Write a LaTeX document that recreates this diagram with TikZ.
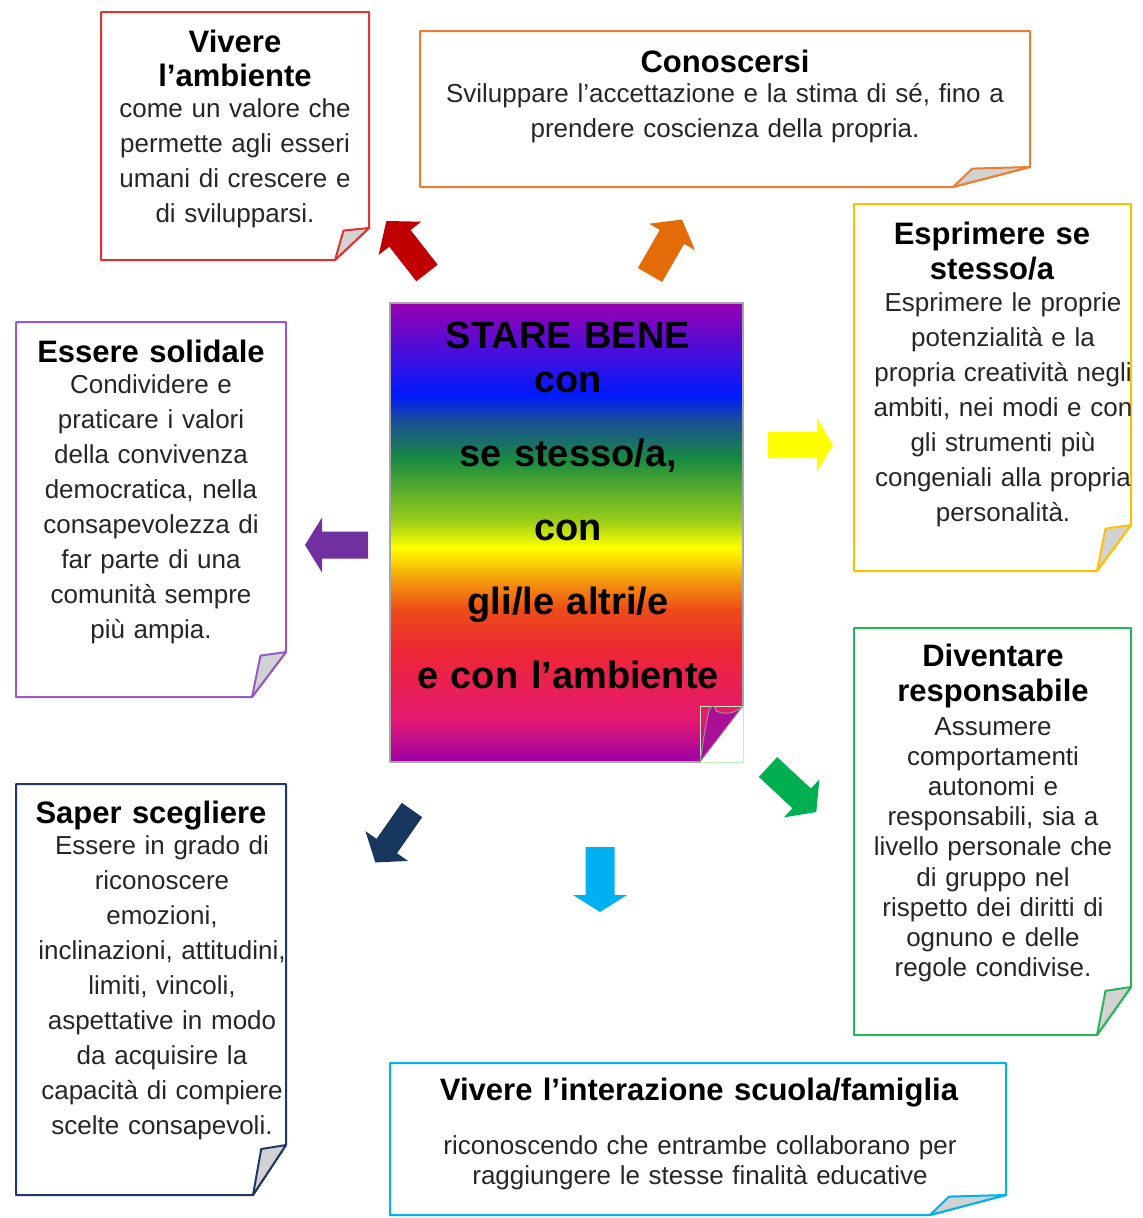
\documentclass[tikz,border=0pt]{standalone}
\usepackage{fontspec}
\setmainfont{Liberation Sans}
\definecolor{cRed}{RGB}{226,50,50}
\definecolor{cRedA}{RGB}{192,0,0}
\definecolor{cOrange}{RGB}{237,125,49}
\definecolor{cOrangeA}{RGB}{227,108,9}
\definecolor{cGold}{RGB}{255,192,0}
\definecolor{cYellowA}{RGB}{255,255,0}
\definecolor{cPurple}{RGB}{150,90,200}
\definecolor{cPurpleA}{RGB}{112,48,160}
\definecolor{cGreen}{RGB}{40,180,90}
\definecolor{cGreenA}{RGB}{0,176,80}
\definecolor{cNavy}{RGB}{31,56,100}
\definecolor{cNavyA}{RGB}{23,55,94}
\definecolor{cCyan}{RGB}{0,176,240}
\definecolor{foldgray}{RGB}{210,210,210}
\definecolor{bodytext}{RGB}{38,38,38}
\definecolor{flapcol}{RGB}{170,15,150}
\definecolor{cornergreen}{RGB}{190,240,190}
\pgfdeclareverticalshading{rainbow}{100bp}{%
rgb(0bp)=(0.6,0,0.65);
rgb(25bp)=(0.6,0,0.65);
rgb(29.6bp)=(0.9,0.1,0.45);
rgb(37.2bp)=(0.93,0.15,0.2);
rgb(41.6bp)=(0.93,0.3,0.1);
rgb(44.8bp)=(0.95,0.6,0.05);
rgb(48.3bp)=(1,1,0);
rgb(51.4bp)=(0.6,0.8,0.1);
rgb(57.9bp)=(0.1,0.55,0.25);
rgb(62.2bp)=(0.1,0.3,0.6);
rgb(65bp)=(0,0.1,1);
rgb(75bp)=(0.6,0,0.7);
rgb(100bp)=(0.6,0,0.7)}
\newcommand\notebox[7]{%
  \pgfmathsetmacro\tipx{#6+0.25*(#4-#6)}%
  \pgfmathsetmacro\tipy{#7+0.08*(#5-#7)}%
  \draw[boxline, draw=#1] (#2,#3) -- (#4,#3) -- (#4,#7) -- (#6,#5) -- (#2,#5) -- cycle;
  \filldraw[boxline, draw=#1, fill=foldgray] (#6,#5) -- (\tipx,\tipy) -- (#4,#7) -- cycle;
}
\newcommand\blockarrow[8]{%
  \begin{scope}[shift={(#2,#3)},rotate=#4]
    \fill[#1] (0,{-#6/2}) -- ({#5-#8},{-#6/2}) -- ({#5-#8},{-#7/2}) -- (#5,0) -- ({#5-#8},{#7/2}) -- ({#5-#8},{#6/2}) -- (0,{#6/2}) -- cycle;
  \end{scope}}
\begin{document}
\begin{tikzpicture}[x=1pt,y=-1pt,
  boxline/.style={line width=2pt, line join=round},
  titletext/.style={font=\fontsize{31}{35}\selectfont\bfseries, text=black, text width=620pt, align=center, inner sep=0pt, anchor=base},
  bodytxt/.style={font=\fontsize{26}{35}\selectfont, text=bodytext, text width=620pt, align=center, inner sep=0pt, anchor=base},
  centertext/.style={font=\fontsize{38}{44}\selectfont\bfseries, text=black, text width=400pt, align=center, inner sep=0pt, anchor=base}]
\useasboundingbox[fill=white] (0,0) rectangle (1143,1218);

% note boxes
\notebox{cRed}{101}{12}{369}{260}{335}{228}
\notebox{cOrange}{420}{31}{1030}{187}{953}{167}
\notebox{cGold}{854}{204}{1131}{571}{1097}{525}
\notebox{cPurple}{16}{322}{286}{697}{252}{652}
\notebox{cGreen}{854}{628}{1131}{1035}{1097}{987}
\notebox{cNavy}{16}{784}{286}{1195}{253}{1145}
\notebox{cCyan}{390}{1063}{1006}{1215}{930}{1195}

% central box
\shade[shading=rainbow] (390,303) -- (743,303) -- (743,706) -- (700,762) -- (390,762) -- cycle;
\draw[gray!70, line width=1.2pt] (743,706) -- (743,303) -- (390,303) -- (390,762) -- (700,762);
\draw[cornergreen, line width=0.8pt] (700,706) rectangle (743,762);
\filldraw[fill=flapcol, draw=gray!80, line width=1pt, line join=round] (700,762) .. controls (704,735) .. (709,710) .. controls (712,704) and (716,706) .. (716,711) .. controls (728,716) and (736,712) .. (743,706) -- cycle;

% arrows
\blockarrow{cRedA}{427}{273}{128}{66}{27}{54}{22}
\blockarrow{cOrangeA}{650}{275}{60}{64}{28}{53}{20}
\blockarrow{cYellowA}{768}{445}{0}{65}{26}{54}{16}
\blockarrow{cPurpleA}{368}{545}{180}{63}{27}{55}{17}
\blockarrow{cGreenA}{768}{767}{-43}{66}{27}{52}{20}
\blockarrow{cNavyA}{412}{810}{-125}{64}{25}{52}{20}
\blockarrow{cCyan}{600}{847}{-90}{65}{29}{54}{17}

% texts
\node[titletext] (t1) at (235,52) {Vivere\\l’ambiente};
\node[bodytxt] (b1) at (235,117) {come un valore che\\permette agli esseri\\umani di crescere e\\di svilupparsi.};

\node[titletext] (t2) at (725,72) {Conoscersi};
\node[bodytxt] (b2) at (725,102) {Sviluppare l’accettazione e la stima di sé, fino a\\prendere coscienza della propria.};

\node[titletext] (t3) at (992,244) {Esprimere se\\stesso/a};
\node[bodytxt] (b3) at (1003,311) {Esprimere le proprie\\potenzialità e la\\propria creatività negli\\ambiti, nei modi e con\\gli strumenti più\\congeniali alla propria\\personalità.};

\node[titletext] (t4) at (151,362) {Essere solidale};
\node[bodytxt] (b4) at (151,393) {Condividere e\\praticare i valori\\della convivenza\\democratica, nella\\consapevolezza di\\far parte di una\\comunità sempre\\più ampia.};

\node[titletext] (t5) at (993,666) {Diventare\\responsabile};
\node[bodytxt, font=\fontsize{26}{30.2}\selectfont] (b5) at (993,735) {Assumere\\comportamenti\\autonomi e\\responsabili, sia a\\livello personale che\\di gruppo nel\\rispetto dei diritti di\\ognuno e delle\\regole condivise.};

\node[titletext] (t6) at (151,823) {Saper scegliere};
\node[bodytxt] (b6) at (162,854) {Essere in grado di\\riconoscere\\emozioni,\\inclinazioni, attitudini,\\limiti, vincoli,\\aspettative in modo\\da acquisire la\\capacità di compiere\\scelte consapevoli.};

\node[titletext] (t7) at (699,1100) {Vivere l’interazione scuola/famiglia};
\node[bodytxt, font=\fontsize{26}{30}\selectfont] (b7) at (700,1154) {riconoscendo che entrambe collaborano per\\raggiungere le stesse finalità educative};

\node[centertext] (c) at (568,348) {STARE BENE\\con\\[30pt]se stesso/a,\\[30pt]con\\[30pt]gli/le altri/e\\[30pt]e con l’ambiente};
\end{tikzpicture}
\end{document}
